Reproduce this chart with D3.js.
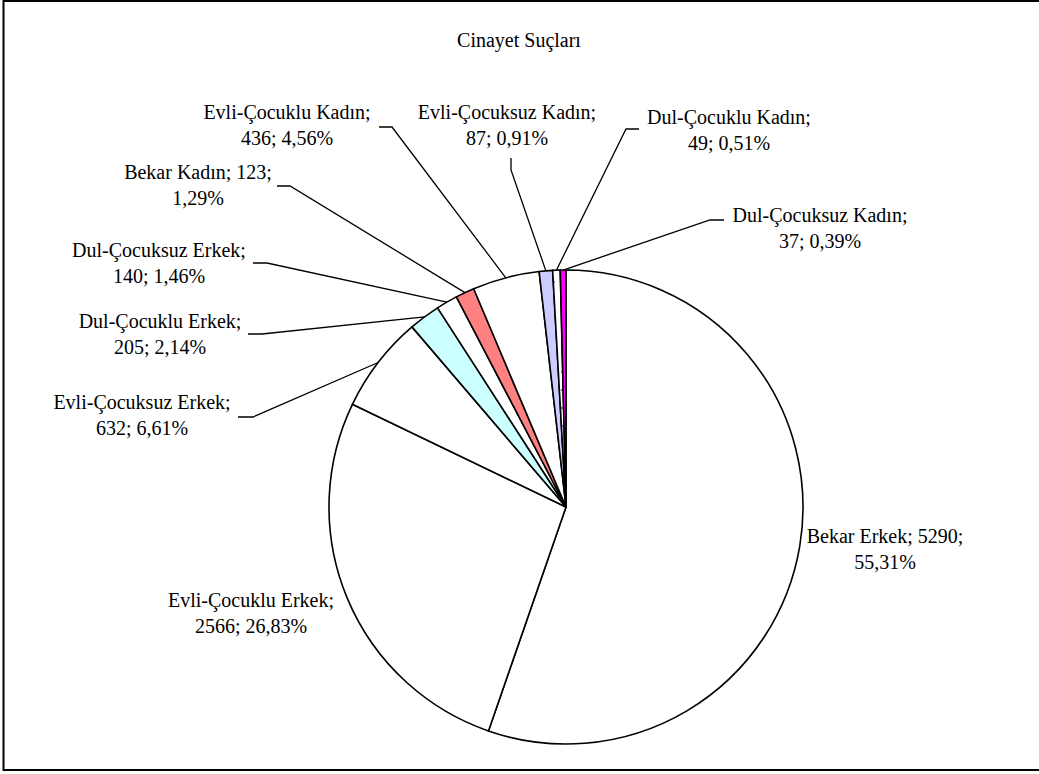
<!DOCTYPE html>
<html>
<head>
<meta charset="utf-8">
<script src="https://cdn.jsdelivr.net/npm/d3@7"></script>
<style>
  html, body { margin: 0; padding: 0; background: #fff; }
  svg { display: block; }
  text { font-family: "Liberation Serif", "Times New Roman", serif; fill: #000; }
</style>
</head>
<body>
<svg id="chart" width="1039" height="774"></svg>
<script>
// ---- data ----
const title = "Cinayet Suçları";
const categories = [
  "Bekar Erkek", "Evli-Çocuklu Erkek", "Evli-Çocuksuz Erkek", "Dul-Çocuklu Erkek",
  "Dul-Çocuksuz Erkek", "Bekar Kadın", "Evli-Çocuklu Kadın", "Evli-Çocuksuz Kadın",
  "Dul-Çocuklu Kadın", "Dul-Çocuksuz Kadın"
];
const values = [5290, 2566, 632, 205, 140, 123, 436, 87, 49, 37];
const fills = ["#ffffff", "#ffffff", "#ffffff", "#ccffff", "#ffffff", "#ff8080",
               "#ffffff", "#ccccff", "url(#dots)", "#ff00ff"];

// ---- layout (label placement, not data) ----
const labelLayout = [
  {x: 885, y: 543, brk: "value"},
  {x: 251, y: 607, brk: "name"},
  {x: 142, y: 409, brk: "name", tick: [[238, 417], [253, 417]]},
  {x: 160, y: 328, brk: "name", tick: [[248, 334], [262, 334]]},
  {x: 159, y: 257, brk: "name", tick: [[253, 263], [267, 263]]},
  {x: 198, y: 179, brk: "value", tick: [[277, 186], [290, 186]]},
  {x: 287, y: 119, brk: "name", tick: [[379, 127], [392, 127]]},
  {x: 507, y: 119, brk: "name", tick: [[511, 158], [511, 170]]},
  {x: 729, y: 124, brk: "name", tick: [[639, 129], [626, 129]]},
  {x: 820, y: 222, brk: "name", tick: [[724, 220], [710, 220]]}
];

const svg = d3.select("#chart");
const W = 1039, H = 774;
const cx = 566, cy = 507, R = 237;
const fontSize = 20, lineGap = 26;

// pattern for dotted slice
const defs = svg.append("defs");
const pat = defs.append("pattern").attr("id", "dots")
  .attr("patternUnits", "userSpaceOnUse").attr("width", 8).attr("height", 18);
pat.append("rect").attr("width", 8).attr("height", 18).attr("fill", "#fff");
pat.append("circle").attr("cx", 4).attr("cy", 9).attr("r", 1.1).attr("fill", "#6a6aa8");

// background + border
svg.append("rect").attr("x", 0).attr("y", 0).attr("width", W).attr("height", H).attr("fill", "#fff");
svg.append("rect").attr("x", 3.5).attr("y", 1).attr("width", 1040).attr("height", 769)
  .attr("fill", "none").attr("stroke", "#000").attr("stroke-width", 2);

// title
svg.append("text").attr("x", 519).attr("y", 47).attr("text-anchor", "middle")
  .attr("font-size", fontSize).text(title);

const total = d3.sum(values);
const data = categories.map((c, i) => ({name: c, value: values[i], fill: fills[i], i}));

const pie = d3.pie().sort(null).value(d => d.value).startAngle(0).endAngle(2 * Math.PI);
const arcs = pie(data);
const arc = d3.arc().innerRadius(0).outerRadius(R);
const rimArc = d3.arc().innerRadius(R).outerRadius(R);

const g = svg.append("g").attr("transform", `translate(${cx},${cy})`);
g.selectAll("path.slice").data(arcs).join("path")
  .attr("class", "slice")
  .attr("d", arc)
  .attr("fill", d => d.data.fill)
  .attr("stroke", "#000")
  .attr("stroke-width", 1.6)
  .attr("stroke-linejoin", "round");

const pct = v => (v / total * 100).toFixed(2).replace(".", ",") + "%";

// leader lines
arcs.forEach(d => {
  const L = labelLayout[d.data.i];
  if (!L.tick) return;
  const [mx, my] = rimArc.centroid(d);
  const pts = [L.tick[0], L.tick[1], [cx + mx, cy + my]];
  svg.append("path").attr("d", d3.line()(pts))
    .attr("fill", "none").attr("stroke", "#000").attr("stroke-width", 1.3);
});

// labels
arcs.forEach(d => {
  const L = labelLayout[d.data.i];
  const name = d.data.name, v = d.data.value;
  const lines = L.brk === "value"
    ? [`${name}; ${v};`, pct(v)]
    : [`${name};`, `${v}; ${pct(v)}`];
  const t = svg.append("text").attr("text-anchor", "middle").attr("font-size", fontSize);
  lines.forEach((ln, k) => {
    t.append("tspan").attr("x", L.x).attr("y", L.y + k * lineGap).text(ln);
  });
});
</script>
</body>
</html>
